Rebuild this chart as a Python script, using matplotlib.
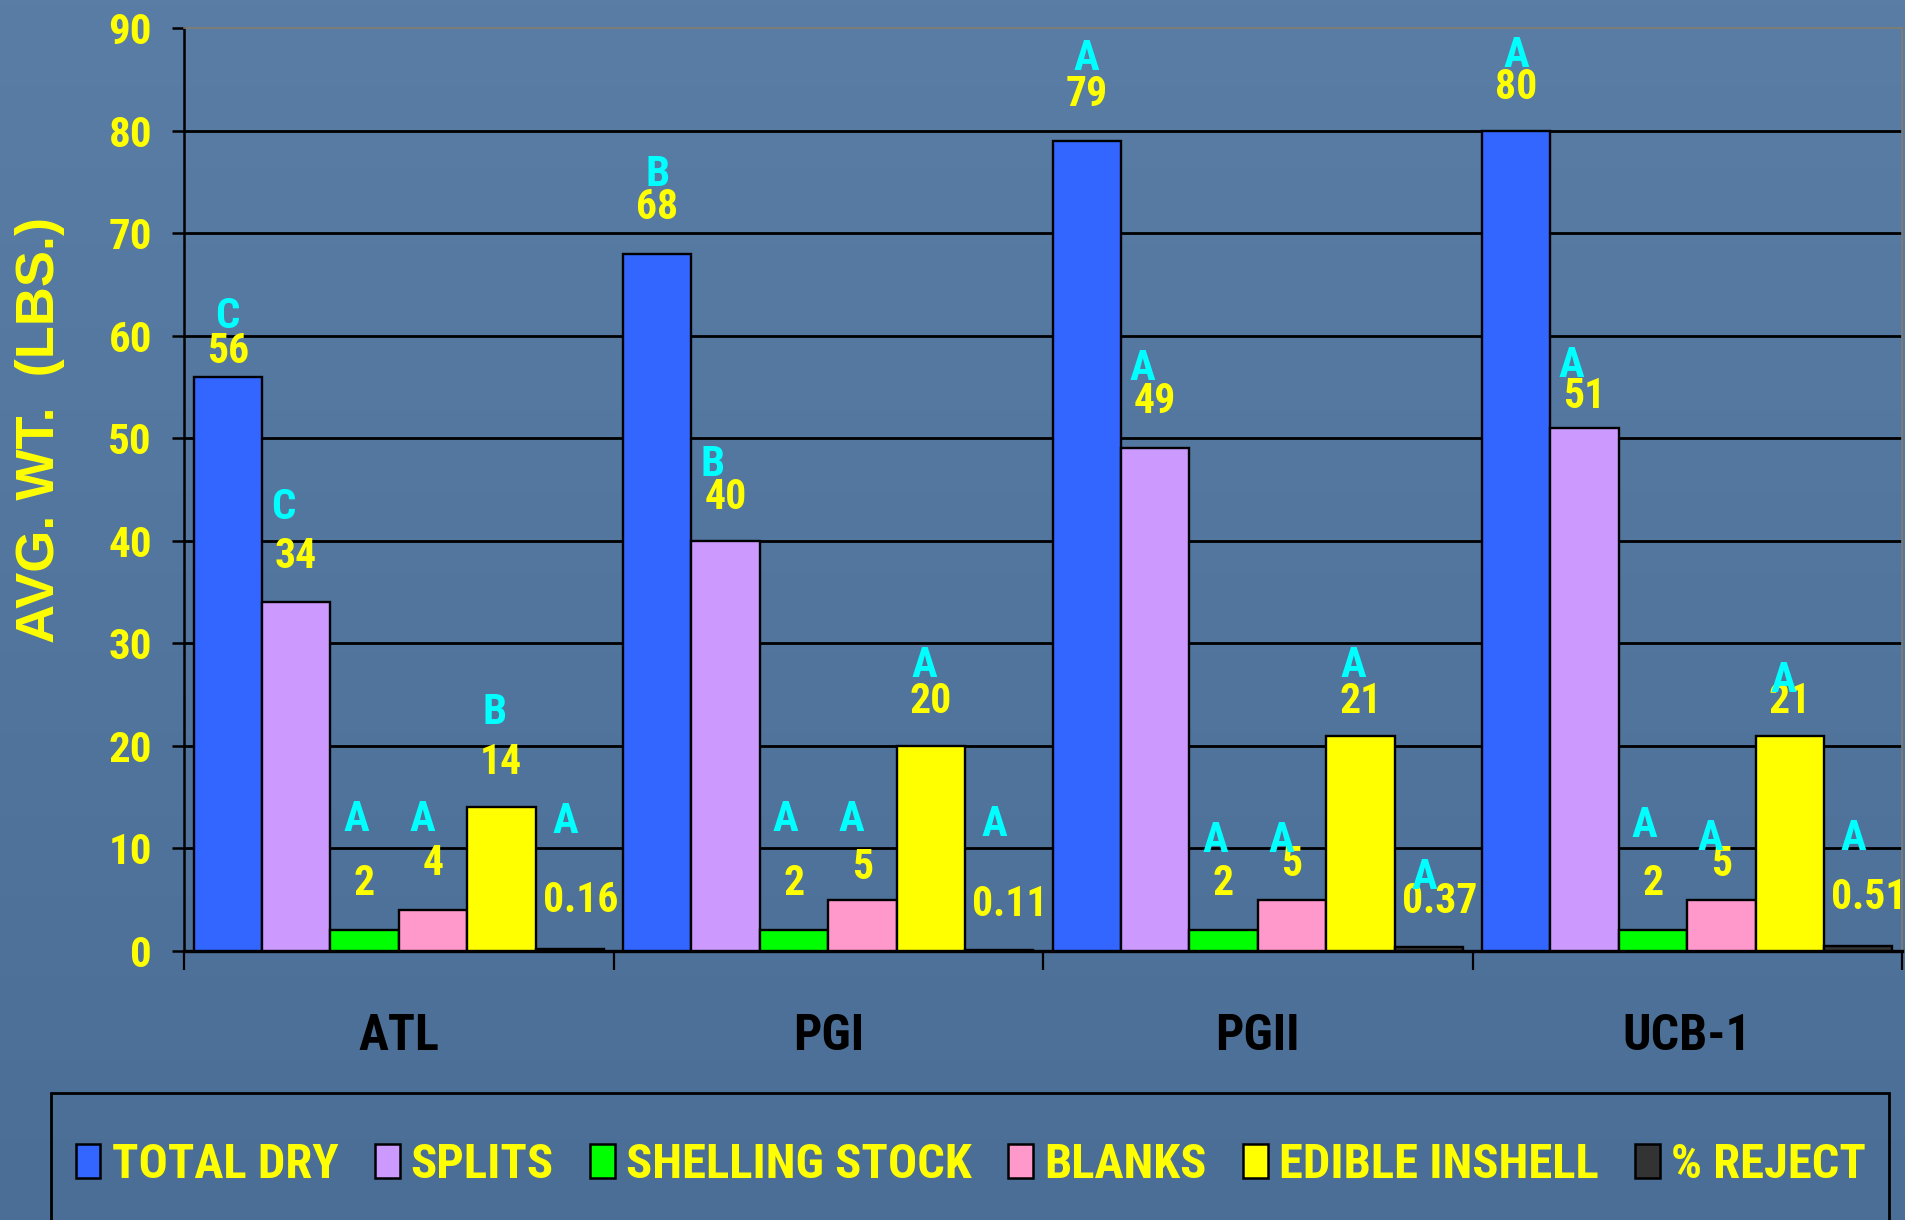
import numpy as np
import matplotlib
matplotlib.use("Agg")
import matplotlib.pyplot as plt
from matplotlib.patches import Rectangle, Patch
from matplotlib.colors import LinearSegmentedColormap
from matplotlib.transforms import blended_transform_factory
from matplotlib import font_manager

# ---- data -------------------------------------------------------------
varieties = ["ATL", "PGI", "PGII", "UCB-1"]
series_names = ["TOTAL DRY", "SPLITS", "SHELLING STOCK", "BLANKS",
                "EDIBLE INSHELL", "% REJECT"]

total_dry = [56, 68, 79, 80]
splits = [34, 40, 49, 51]
shelling_stock = [2, 2, 2, 2]
blanks = [4, 5, 5, 5]
edible_inshell = [14, 20, 21, 21]
pct_reject = [0.16, 0.11, 0.37, 0.51]

# mean-separation letters for each series
total_dry_grp = ["C", "B", "A", "A"]
splits_grp = ["C", "B", "A", "A"]
shelling_grp = ["A", "A", "A", "A"]
blanks_grp = ["A", "A", "A", "A"]
edible_grp = ["B", "A", "A", "A"]
reject_grp = ["A", "A", "A", "A"]

y_ticks = [0, 10, 20, 30, 40, 50, 60, 70, 80, 90]
y_label = "AVG. WT.  (LBS.)"

# ---- styling / layout -------------------------------------------------
bar_colors = ["#3366FF", "#CC99FF", "#00FF00", "#FF99CC", "#FFFF00", "#333333"]
# height of the value text above each bar top (data units), per series x variety
num_lift = [[2.5, 4.5, 4.5, 4.2],
            [4.5, 4.2, 4.6, 3.1],
            [4.6, 4.6, 4.6, 4.6],
            [4.5, 3.1, 3.4, 3.4],
            [4.4, 4.3, 3.3, 3.3],
            [4.8, 4.4, 4.5, 4.7]]
# height of the letter above the value text (data units)
letter_lift = [[3.4, 3.2, 3.5, 3.1],
               [4.7, 3.2, 3.2, 3.0],
               [6.2, 6.2, 4.2, 5.6],
               [4.3, 4.7, 2.4, 2.6],
               [4.9, 3.5, 3.5, 2.1],
               [7.7, 7.8, 2.3, 5.8]]
letter_dx = [0.0, -0.03, -0.02, -0.025, -0.015, -0.01]
num_dx = [0.0, 0.0, 0.0, 0.0, 0.0, 0.025]

available = {f.name for f in font_manager.fontManager.ttflist}


def pick(cands, default="DejaVu Sans"):
    for c in cands:
        if c in available:
            return c
    return default


NARROW = pick(["Liberation Sans Narrow", "Roboto Condensed", "Fira Sans Condensed",
               "Barlow Semi Condensed"])
WIDE = pick(["Liberation Sans", "Arimo"])

YELLOW = "#FFFF00"
CYAN = "#00FFFF"

values = [total_dry, splits, shelling_stock, blanks, edible_inshell, pct_reject]
groups = [total_dry_grp, splits_grp, shelling_grp, blanks_grp, edible_grp, reject_grp]


def fmt(v):
    return f"{v:g}"


W, H = 1905, 1220
fig = plt.figure(figsize=(W / 100, H / 100), dpi=100)

# background gradient
bg = fig.add_axes([0, 0, 1, 1], zorder=-10)
grad = np.linspace(0, 1, 256).reshape(-1, 1)
cmap = LinearSegmentedColormap.from_list("bg", ["#597da5", "#4b6e96"])
bg.imshow(grad, aspect="auto", cmap=cmap, extent=[0, 1, 0, 1], origin="upper")
bg.set_axis_off()

ax_bottom, ax_top = 951, 28
ax = fig.add_axes([184 / W, 1 - ax_bottom / H, (1902 - 184) / W, (ax_bottom - ax_top) / H])
ax.set_facecolor("none")

n_series = len(values)
bar_w = 0.1592
start = (1 - n_series * bar_w) / 2
x_base = np.arange(len(varieties))

for s in range(n_series):
    xs = x_base + start + s * bar_w + bar_w / 2
    ax.bar(xs, values[s], width=bar_w, color=bar_colors[s], edgecolor="black",
           linewidth=1.7, zorder=3)
    for k, (x, v) in enumerate(zip(xs, values[s])):
        ny = v + num_lift[s][k]
        ax.text(x + num_dx[s], ny, fmt(v), ha="center", va="center", color=YELLOW,
                fontsize=30, fontweight="bold", family=NARROW, zorder=5)
        ax.text(x + letter_dx[s], ny + letter_lift[s][k], groups[s][k],
                ha="center", va="center", color=CYAN, fontsize=31,
                fontweight="bold", family=NARROW, zorder=6)

ax.set_xlim(0, len(varieties))
ax.set_ylim(0, 90)
ax.set_yticks(y_ticks)
ax.set_yticklabels([str(t) for t in y_ticks], color=YELLOW, fontsize=31,
                   fontweight="bold", family=NARROW)
ax.tick_params(axis="y", length=9, width=1.8, color="black", pad=14)

ax.set_xticks(np.arange(len(varieties) + 1))
ax.set_xticklabels([])
ax.tick_params(axis="x", which="major", length=14, width=1.6, color="black")

# variety names below each group
name_tr = blended_transform_factory(ax.transData, ax.transAxes)
for k, name in enumerate(varieties):
    ax.text(k + 0.5, -(1050 - ax_bottom) / (ax_bottom - ax_top), name,
            transform=name_tr, ha="center", va="baseline", color="black",
            fontsize=36, fontweight="bold", family=NARROW, clip_on=False)

for y in y_ticks[1:-1]:
    ax.axhline(y, color="black", linewidth=2.0, zorder=1)

ax.spines["left"].set_linewidth(1.8)
ax.spines["left"].set_color("black")
ax.spines["bottom"].set_linewidth(2.4)
ax.spines["bottom"].set_color("black")
ax.spines["top"].set_color("#857c6e")
ax.spines["top"].set_linewidth(1.2)
ax.spines["right"].set_color("#857c6e")
ax.spines["right"].set_linewidth(1.2)

fig.text(40 / W, 1 - 430 / H, y_label, rotation=90, ha="center", va="center",
         color=YELLOW, fontsize=39, fontweight="bold", family=WIDE)

# legend box
fig.add_artist(Rectangle((51 / W, -0.05), (1889 - 51) / W, 0.05 + (1 - 1093 / H),
                         transform=fig.transFigure, facecolor="none",
                         edgecolor="black", linewidth=2.0, zorder=4))
handles = [Patch(facecolor=c, edgecolor="black", linewidth=1.8) for c in bar_colors]
leg = fig.legend(handles, series_names, loc="center",
                 bbox_to_anchor=(971 / W, 1 - 1165 / H), ncol=6, frameon=False,
                 handlelength=0.51, handleheight=0.70, handletextpad=0.23,
                 columnspacing=0.75, borderaxespad=0,
                 prop={"family": NARROW, "weight": "bold", "size": 35})
for t in leg.get_texts():
    t.set_color(YELLOW)

fig.savefig("out.png", dpi=100)
